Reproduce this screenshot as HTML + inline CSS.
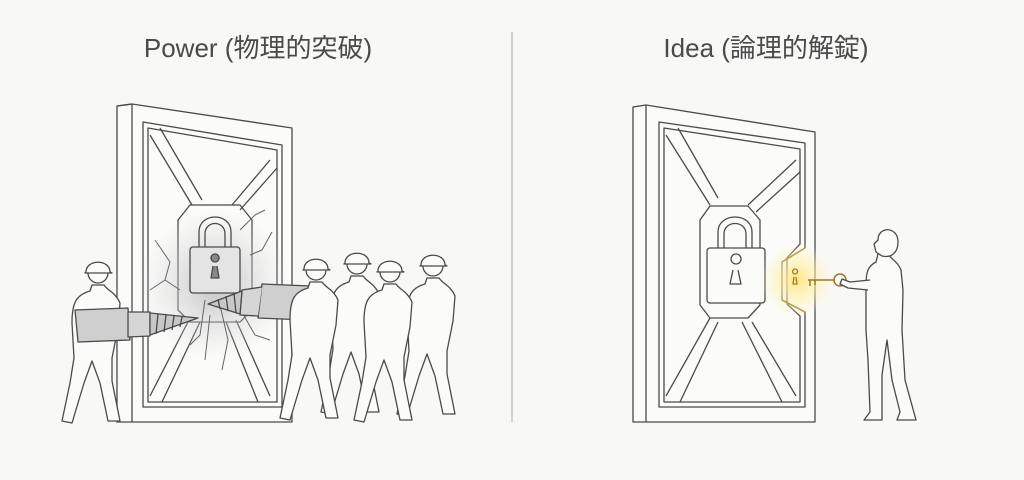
<!DOCTYPE html>
<html><head><meta charset="utf-8">
<style>
html,body{margin:0;padding:0;background:#f8f8f7;}
svg{display:block}
text{font-family:"Liberation Sans","Noto Sans CJK JP",sans-serif;fill:#4a4a4a;}
</style></head><body>
<svg width="1024" height="480" viewBox="0 0 1024 480" xmlns="http://www.w3.org/2000/svg">
<defs>
<radialGradient id="dust" cx="0.5" cy="0.5" r="0.5">
<stop offset="0" stop-color="#bdbdbd" stop-opacity="0.9"/>
<stop offset="1" stop-color="#d8d8d8" stop-opacity="0"/>
</radialGradient>
<radialGradient id="glow" cx="0.5" cy="0.5" r="0.5">
<stop offset="0" stop-color="#ffe680" stop-opacity="0.95"/>
<stop offset="0.6" stop-color="#fff2b0" stop-opacity="0.5"/>
<stop offset="1" stop-color="#fff8d8" stop-opacity="0"/>
</radialGradient>
<g id="person" fill="#fbfbfa" stroke="#4a4a4a" stroke-width="1.3" stroke-linejoin="round">
<path d="M-6,12 L-8,18 C-22,22 -26,30 -26,50 L-24,85 L-28,110 L-36,148 L-26,150 L-14,110 L-6,88 L2,110 L10,148 L22,148 L14,108 L14,85 L20,55 L22,30 C18,20 10,18 6,12 Z"/>
<circle cx="0" cy="0" r="10"/>
<path d="M-12,-1 C-12,-14 12,-14 12,-1 L14,0 L-13,0 Z"/>
</g>
</defs>

<text x="258" y="57" font-size="26" text-anchor="middle">Power (物理的突破)</text>
<text x="766" y="57" font-size="26" text-anchor="middle">Idea (論理的解錠)</text>
<line x1="512" y1="32" x2="512" y2="422" stroke="#aaa" stroke-width="1"/>

<g fill="none" stroke="#4a4a4a" stroke-width="1.3" stroke-linejoin="round">
<!-- LEFT DOOR -->
<path d="M117,106 L132,104 L292,128 L292,422 L117,422 Z" fill="#fbfbfa"/>
<path d="M132,104 L132,422 M132,104 L117,106"/>
<path d="M143,122 L282,145 L282,407 L143,407 Z"/>
<path d="M148,128 L277,150 L277,402 L148,402 Z"/>
<path d="M150,135 L192,205 M160,128 L202,200 M270,160 L232,205 M277,168 L240,210"/>
<path d="M150,396 L190,318 M162,402 L200,322 M270,396 L236,320 M258,402 L226,322"/>
<path d="M190,205 L240,205 L252,220 L252,310 L240,322 L190,322 L178,310 L178,220 Z"/>
<circle cx="215" cy="285" r="75" fill="url(#dust)" stroke="none"/>
<path d="M199,247 L199,232 C199,212 231,212 231,232 L231,247 M205,247 L205,234 C205,220 225,220 225,234 L225,247"/>
<rect x="190" y="247" width="50" height="46" rx="3" fill="#e4e4e4"/>
<path d="M215,262 a4,4 0 1 1 0.1,0 M213,266 L211,278 L219,278 L217,266" fill="#888"/>
<path d="M155,240 L170,262 L165,280 L180,290 M165,280 L150,290 M240,230 L255,215 L265,210 M250,255 L262,250 L272,232 M205,300 L200,335 L190,345 M220,305 L228,340 L222,370 M210,315 L205,360 M235,300 L255,335 L270,340" stroke="#666" stroke-width="1"/>
<!-- left drill man -->
<use href="#person" transform="translate(98,273)" />
<path d="M75,310 L128,308 L130,340 L78,342 Z" fill="#cfcfcf"/>
<path d="M128,312 L150,312 L150,336 L128,337 Z" fill="#d6d6d6"/>
<path d="M150,313 L198,318 L150,335 Z" fill="#c8c8c8"/>
<path d="M158,314 L156,334 M166,315 L164,332 M174,316 L172,330 M182,317 L180,327"/>
<!-- right drill -->
<path d="M262,284 L310,286 L306,320 L258,318 Z" fill="#cfcfcf"/>
<path d="M262,287 L242,290 L240,315 L258,316" fill="#d6d6d6"/>
<path d="M242,291 L208,304 L240,314 Z" fill="#c8c8c8"/>
<path d="M234,293 L236,313 M226,296 L228,311 M218,299 L220,309"/>
<!-- workers -->
<use href="#person" transform="translate(433,266)"/>
<use href="#person" transform="translate(357,264)"/>
<use href="#person" transform="translate(390,272)"/>
<use href="#person" transform="translate(316,270)"/>

<!-- RIGHT DOOR -->
<path d="M633,107 L646,105 L815,132 L815,422 L633,422 Z" fill="#fbfbfa"/>
<path d="M646,105 L646,422"/>
<path d="M659,122 L805,143 L805,248 L782,262 L782,300 L805,312 L805,407 L659,407 Z"/>
<path d="M664,128 L800,149 L800,244 L787,258 L787,304 L800,316 L800,402 L664,402 Z"/>
<path d="M666,135 L710,205 M678,128 L718,198 M796,160 L748,205 M800,172 L756,212"/>
<path d="M666,396 L710,318 M680,402 L718,322 M796,396 L752,322 M782,402 L742,322"/>
<path d="M710,206 L748,206 L760,220 L760,305 L748,318 L710,318 L700,305 L700,220 Z"/>
<path d="M718,248 L718,232 C718,212 752,212 752,232 L752,248 M724,248 L724,234 C724,220 746,220 746,234 L746,248"/>
<rect x="707" y="248" width="58" height="55" rx="3" fill="#fbfbfa"/>
<path d="M736,264 a5,5 0 1 1 0.1,0 M733,270 L730,284 L741,284 L738,270"/>
<circle cx="797" cy="280" r="38" fill="url(#glow)" stroke="none"/>
<path d="M782,262 L805,248 M782,300 L805,312" stroke="#b8a040"/>
<path d="M795,274 a2.5,2.5 0 1 1 0.1,0 M794,277 L793,284 L797,284 L796,277" stroke="#a08020"/>
<path d="M808,280 L834,280 M810,280 L810,286 M815,280 L815,285" stroke="#9a7a20" stroke-width="1.5"/>
<circle cx="840" cy="280" r="6" stroke="#9a7a20" stroke-width="1.5"/>
<!-- standing man -->
<g fill="#fbfbfa">
<path d="M878,254 L876,262 C868,266 866,272 866,285 L866,330 L868,360 L870,412 L864,420 L882,420 L882,375 L887,340 L892,380 L900,412 L897,420 L916,420 L905,380 L902,330 L903,290 L901,270 C898,262 892,260 888,254 Z"/>
<path d="M878,240 C878,226 898,226 898,242 C898,254 890,258 882,256 L876,252 L874,244 Z"/>
<path d="M870,280 L850,282 L842,279 L840,284 L848,288 L868,290"/>
</g>
</g>
</svg>
</body></html>
